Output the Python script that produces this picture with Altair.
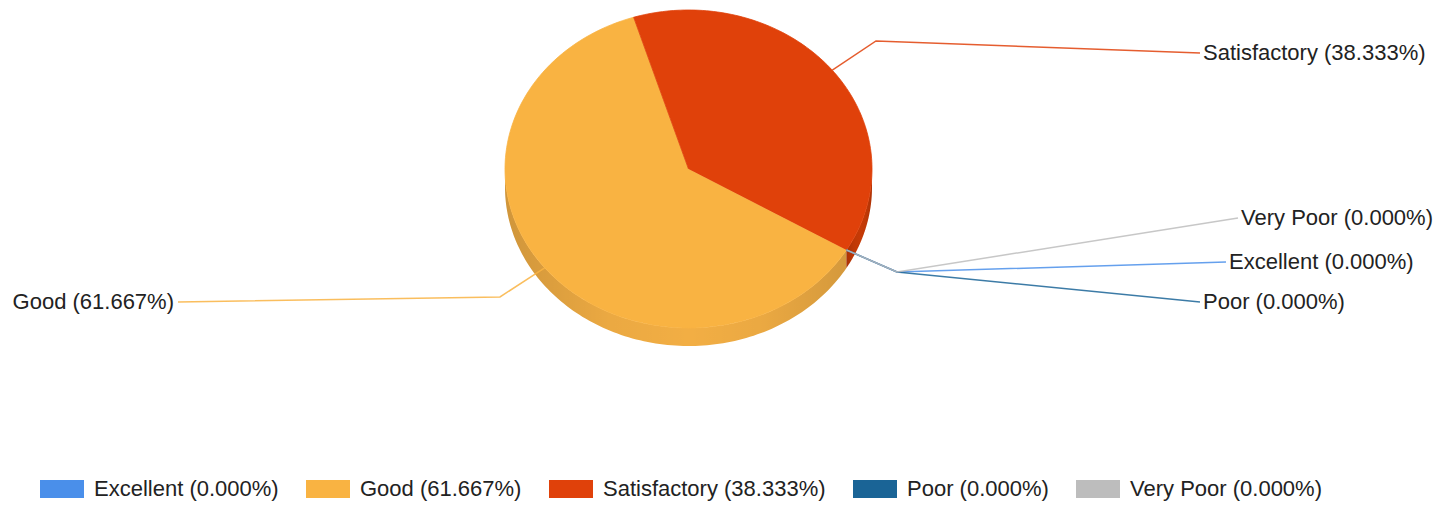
import math
import altair as alt
import pandas as pd

# ---------------- data ----------------
categories = ["Excellent", "Good", "Satisfactory", "Poor", "Very Poor"]
percentages = [0.000, 61.667, 38.333, 0.000, 0.000]
labels = [f"{c} ({p:.3f}%)" for c, p in zip(categories, percentages)]

# ---------------- styles ----------------
slice_colors = ["#4A8FEA", "#F9B342", "#E0410A", "#1A6496", "#BDBDBD"]
side_colors = ["#3F7CCB", "#F2AE44", "#C63A06", "#134F73", "#A5A5A5"]

# ---------------- layout (page pixels) ----------------
elbow_x = [897, 500, 876, 897, 897]
elbow_y = [272, 297, 41, 272, 272]
end_x = [1226, 178, 1200, 1200, 1238]
end_y = [262, 302, 53, 302, 218]
label_side = ["right", "left", "right", "right", "right"]

CX, CY, RX, RY, DEPTH = 688.5, 169.0, 183.5, 159.0, 18.0
START = math.radians(120.6)
N = 120
W, H = 1428, 493
FONT = "Liberation Sans"

df = pd.DataFrame({
    "category": categories,
    "pct": percentages,
    "label": labels,
    "sort": list(range(len(categories))),
    "elbow_x": elbow_x,
    "elbow_y": elbow_y,
    "end_x": end_x,
    "end_y": end_y,
    "label_side": label_side,
})

xs = alt.Scale(domain=[8, 8 + W], nice=False, zero=False)
ys = alt.Scale(domain=[8, 8 + H], nice=False, zero=False, reverse=True)
cscale = alt.Scale(domain=labels, range=slice_colors)          # legend scale
kscale = alt.Scale(domain=categories, range=slice_colors)      # strokes
sscale = alt.Scale(domain=categories, range=side_colors)       # rim fill

X = alt.X("px:Q", scale=xs, axis=None)
Y = alt.Y("py:Q", scale=ys, axis=None)

base = (
    alt.Chart(df)
    .transform_window(cum="sum(pct)", sort=[alt.SortField("sort")], frame=[None, 0])
    .transform_calculate(a1=f"{START} + datum.cum / 100 * 2 * PI")
    .transform_calculate(a0="datum.a1 - datum.pct / 100 * 2 * PI")
)

RECT = "M-1,-0.41H1V0.41H-1Z"
TX = alt.X("end_x:Q", scale=xs, axis=None)
TY = alt.Y("end_y:Q", scale=ys, axis=None)

# ---- legend carrier (invisible points) ----
legend_layer = base.mark_point(filled=True, size=0, shape=RECT).encode(
    x=TX, y=TY,
    color=alt.Color(
        "label:N", scale=cscale, sort=labels,
        legend=alt.Legend(
            title=None, orient="none", legendX=32, legendY=459,
            direction="horizontal",
            symbolType=RECT, symbolSize=1936,
            symbolStrokeWidth=0, symbolOpacity=1,
            labelFont=FONT, labelFontSize=22, labelColor="#222222",
            labelOffset=10, labelLimit=500, columnPadding=27, padding=0,
        ),
    ),
)

# ---- side (3D rim) ----
side = (
    base.transform_filter("datum.pct > 0")
    .transform_calculate(
        lo1="max(datum.a0, PI / 2)",
        hi1="min(datum.a1, 3 * PI / 2)",
        lo2="max(datum.a0, 5 * PI / 2)",
        hi2="min(datum.a1, 7 * PI / 2)",
    )
    .transform_calculate(
        slo="datum.lo1 < datum.hi1 ? datum.lo1 : datum.lo2",
        shi="datum.lo1 < datum.hi1 ? datum.hi1 : datum.hi2",
    )
    .transform_filter("datum.shi > datum.slo")
    .transform_calculate(pts=f"sequence(0, {2 * N + 2})")
    .transform_flatten(["pts"], as_=["k"])
    .transform_calculate(t=f"datum.k <= {N} ? datum.k / {N} : ({2 * N + 1} - datum.k) / {N}")
    .transform_calculate(ang="datum.slo + (datum.shi - datum.slo) * datum.t")
    .transform_calculate(
        px=f"{CX} + {RX} * sin(datum.ang)",
        py=f"{CY} - {RY} * cos(datum.ang) + (datum.k > {N} ? {DEPTH} : 0)",
    )
)

side_fill = side.mark_line(filled=True, strokeWidth=0).encode(
    x=X, y=Y, order=alt.Order("k:Q"),
    fill=alt.Fill("category:N", scale=sscale, legend=None),
)

shade = alt.Gradient(
    gradient="linear", x1=0, x2=1, y1=0, y2=0,
    stops=[
        alt.GradientStop(color="rgba(0,0,0,0.14)", offset=0),
        alt.GradientStop(color="rgba(0,0,0,0.03)", offset=0.3),
        alt.GradientStop(color="rgba(0,0,0,0)", offset=0.54),
        alt.GradientStop(color="rgba(0,0,0,0.03)", offset=0.75),
        alt.GradientStop(color="rgba(0,0,0,0.12)", offset=1),
    ],
)
side_shade = side.mark_line(filled=True, fill=shade, strokeWidth=0).encode(
    x=X, y=Y, order=alt.Order("k:Q"), detail="label:N",
)

# ---- top face ----
top = (
    base.transform_filter("datum.pct > 0")
    .transform_calculate(pts=f"sequence(0, {N + 2})")
    .transform_flatten(["pts"], as_=["k"])
    .transform_calculate(ang=f"datum.a0 + (datum.a1 - datum.a0) * (datum.k - 1) / {N}")
    .transform_calculate(
        px=f"datum.k == 0 ? {CX} : {CX} + {RX} * sin(datum.ang)",
        py=f"datum.k == 0 ? {CY} : {CY} - {RY} * cos(datum.ang)",
    )
    .mark_line(filled=True, strokeWidth=0.8)
    .encode(
        x=X, y=Y, order=alt.Order("k:Q"),
        color=alt.Color("label:N", scale=cscale),
        stroke=alt.Stroke("category:N", scale=kscale, legend=None),
    )
)

# ---- leader lines ----
leaders = (
    base.transform_calculate(mid="(datum.a0 + datum.a1) / 2")
    .transform_calculate(pts="sequence(0, 3)")
    .transform_flatten(["pts"], as_=["k"])
    .transform_calculate(
        px=f"datum.k == 0 ? {CX} + {RX} * sin(datum.mid) : (datum.k == 1 ? datum.elbow_x : datum.end_x)",
        py=f"datum.k == 0 ? {CY} - {RY} * cos(datum.mid) : (datum.k == 1 ? datum.elbow_y : datum.end_y)",
    )
    .mark_line(strokeWidth=1.5, strokeOpacity=0.85)
    .encode(
        x=X, y=Y, order=alt.Order("k:Q"),
        stroke=alt.Stroke("category:N", scale=kscale, legend=None),
    )
)

text_right = base.transform_filter("datum.label_side == 'right'").mark_text(
    align="left", baseline="middle", dx=3, font=FONT, fontSize=22, color="#222222"
).encode(x=TX, y=TY, text="label:N")
text_left = base.transform_filter("datum.label_side == 'left'").mark_text(
    align="right", baseline="middle", dx=-4, font=FONT, fontSize=22, color="#222222"
).encode(x=TX, y=TY, text="label:N")

chart = (
    alt.layer(legend_layer, side_fill, side_shade, top, leaders, text_right, text_left)
    .properties(width=W, height=H, padding=0, autosize=alt.AutoSizeParams(type="none"),
                background="white")
    .configure_view(stroke=None)
)

chart.save("out.html", embed_options={"renderer": "svg", "actions": False})
